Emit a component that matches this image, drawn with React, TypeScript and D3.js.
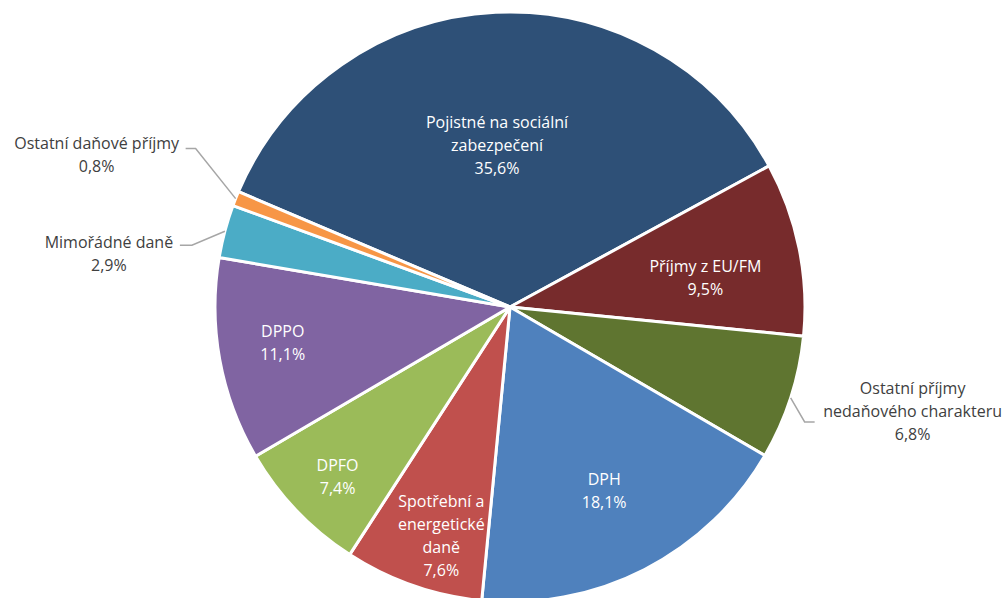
import React from "react";
import * as d3 from "d3";

const categories = [
  "Pojistné na sociální zabezpečení",
  "Příjmy z EU/FM",
  "Ostatní příjmy nedaňového charakteru",
  "DPH",
  "Spotřební a energetické daně",
  "DPFO",
  "DPPO",
  "Mimořádné daně",
  "Ostatní daňové příjmy",
];
const values = [35.6, 9.5, 6.8, 18.1, 7.6, 7.4, 11.1, 2.9, 0.8];
const valueLabels = ["35,6%", "9,5%", "6,8%", "18,1%", "7,6%", "7,4%", "11,1%", "2,9%", "0,8%"];
const labelLines = [
  ["Pojistné na sociální", "zabezpečení"],
  ["Příjmy z EU/FM"],
  ["Ostatní příjmy", "nedaňového charakteru"],
  ["DPH"],
  ["Spotřební a", "energetické", "daně"],
  ["DPFO"],
  ["DPPO"],
  ["Mimořádné daně"],
  ["Ostatní daňové příjmy"],
];
const colors = ["#2E5077", "#772B2C", "#5F7530", "#4F81BD", "#C0504D", "#9BBB59", "#8064A2", "#4BACC6", "#F79646"];

// label layout: inside labels via radial fraction + angle tweak (deg); outside labels via offsets
const insideLayout: Record<number, { f: number; da: number }> = {
  0: { f: 0.55, da: -1.8 },
  1: { f: 0.67, da: 2.8 },
  3: { f: 0.7, da: 0 },
  4: { f: 0.81, da: -2.5 },
  5: { f: 0.82, da: -0.8 },
  6: { f: 0.78, da: 1.4 },
};
const outsideLayout: Record<number, { elbow: [number, number]; end: [number, number]; text: [number, number] }> = {
  2: { elbow: [14, 24], end: [24, 24], text: [122, 13] },
  7: { elbow: [-33, 14], end: [-45, 14], text: [-116, 22] },
  8: { elbow: [-40, -50], end: [-50, -50], text: [-139, -44] },
};

export default function App() {
  const W = 1005, H = 598;
  const cx = 510, cy = 307, R = 295;
  const start = (-67 * Math.PI) / 180;
  const pie = d3.pie<number>().sort(null).value((d) => d).startAngle(start).endAngle(start + 2 * Math.PI);
  const arcs = pie(values);
  const arc = d3.arc<d3.PieArcDatum<number>>().innerRadius(0).outerRadius(R);
  const lineH = 23;
  const font = "'Open Sans', sans-serif";
  const fs = 16;

  const polar = (a: number, r: number): [number, number] => [Math.sin(a) * r, -Math.cos(a) * r];

  return (
    <svg width={W} height={H} style={{ position: "absolute", left: 0, top: 0, background: "#fff" }}>
      <g transform={`translate(${cx},${cy})`}>
        {arcs.map((a, i) => (
          <path key={i} d={arc(a) || ""} fill={colors[i]} stroke="#fff" strokeWidth={3} strokeLinejoin="round" />
        ))}
        {arcs.map((a, i) => {
          const mid = (a.startAngle + a.endAngle) / 2;
          const lines = [...labelLines[i], valueLabels[i]];
          if (insideLayout[i]) {
            const L = insideLayout[i];
            const [x, y] = polar(mid + (L.da * Math.PI) / 180, R * L.f);
            const y0 = y - ((lines.length - 1) * lineH) / 2;
            return (
              <text key={"t" + i} x={x} y={y0} fill="#fff" fontFamily={font} fontSize={fs} textAnchor="middle" dominantBaseline="central">
                {lines.map((l, j) => (
                  <tspan key={j} x={x} y={y0 + j * lineH}>{l}</tspan>
                ))}
              </text>
            );
          }
          const O = outsideLayout[i];
          const [ex, ey] = polar(mid, R);
          const [tx, ty] = [ex + O.text[0], ey + O.text[1]];
          const y0 = ty - ((lines.length - 1) * lineH) / 2;
          return (
            <g key={"o" + i}>
              <polyline
                points={`${ex},${ey} ${ex + O.elbow[0]},${ey + O.elbow[1]} ${ex + O.end[0]},${ey + O.end[1]}`}
                fill="none"
                stroke="#A6A6A6"
                strokeWidth={1.5}
              />
              <text x={tx} y={y0} fill="#404040" fontFamily={font} fontSize={fs} textAnchor="middle" dominantBaseline="central">
                {lines.map((l, j) => (
                  <tspan key={j} x={tx} y={y0 + j * lineH}>{l}</tspan>
                ))}
              </text>
            </g>
          );
        })}
      </g>
    </svg>
  );
}
